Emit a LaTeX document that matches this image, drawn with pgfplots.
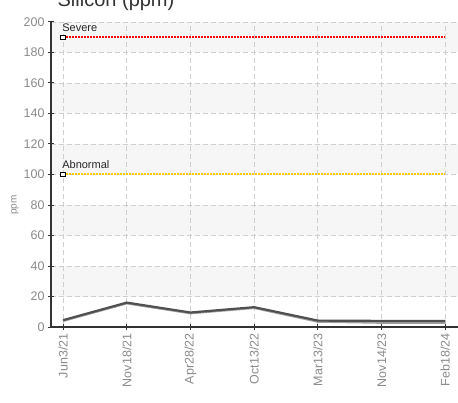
\documentclass[border=0pt]{standalone}
\usepackage{fontspec}
\setmainfont{Liberation Sans}
\usepackage{pgfplots}
\pgfplotsset{compat=1.18}
\definecolor{tickgray}{HTML}{8A8A8A}
\definecolor{bandgray}{HTML}{F6F6F6}
\definecolor{gridgray}{HTML}{CFCFCF}
\definecolor{sevred}{HTML}{FF0000}
\definecolor{abngold}{HTML}{FFCC00}
\definecolor{linedark}{HTML}{505050}
\definecolor{linelight}{HTML}{A0A0A0}
\begin{document}
\begin{tikzpicture}
\begin{axis}[
  set layers,
  scale only axis, width=407pt, height=305pt,
  xmin=-0.19, xmax=6.2, ymin=0, ymax=200,
  axis lines=left,
  axis line style={-, line width=1.2pt, color=black!80},
  xtick={0,1,2,3,4,5,6},
  xticklabels={Jun3/21,Nov18/21,Apr28/22,Oct13/22,Mar13/23,Nov14/23,Feb18/24},
  ytick={0,20,...,200},
  x tick label style={rotate=90, anchor=east, font=\fontsize{12.5}{14}\selectfont, text=tickgray},
  y tick label style={font=\fontsize{12.5}{14}\selectfont, text=tickgray},
  /pgf/number format/assume math mode=true,
  tick align=center, major tick length=6pt,
  tick style={black!80, line width=1pt},
  grid=major,
  grid style={gridgray, line width=0.8pt, dash pattern=on 5pt off 3pt},
  clip=false,
]
\begin{pgfonlayer}{axis background}
\fill[bandgray] (axis cs:-0.19,180) rectangle (axis cs:6.2,200);
\fill[bandgray] (axis cs:-0.19,140) rectangle (axis cs:6.2,160);
\fill[bandgray] (axis cs:-0.19,100) rectangle (axis cs:6.2,120);
\fill[bandgray] (axis cs:-0.19,60) rectangle (axis cs:6.2,80);
\fill[bandgray] (axis cs:-0.19,20) rectangle (axis cs:6.2,40);
\end{pgfonlayer}
\coordinate (bl) at (rel axis cs:0,0);
\coordinate (tr) at (rel axis cs:1,1);
% thresholds
\addplot[sevred, line width=2pt, dash pattern=on 2pt off 1pt] coordinates {(0,190) (6,190)};
\addplot[abngold, line width=2pt, dash pattern=on 2pt off 1pt] coordinates {(0,100) (6,100)};
\addplot[only marks, mark=square*, mark size=2.3pt, mark options={fill=white, draw=black, line width=0.8pt}] coordinates {(0,190) (0,100)};
\node[anchor=base west, font=\fontsize{11}{12}\selectfont, text=black!85, inner sep=0pt] at ([shift={(-1pt,6pt)}]axis cs:0,190) {Severe};
\node[anchor=base west, font=\fontsize{11}{12}\selectfont, text=black!85, inner sep=0pt] at ([shift={(-1pt,6pt)}]axis cs:0,100) {Abnormal};
% data
\addplot[linelight, line width=2.2pt] coordinates {(0,4) (1,15.5) (2,9) (3,12.5) (4,3.5) (5,2.8) (6,2.8)};
\addplot[linedark, line width=2.2pt] coordinates {(0,4.5) (1,16) (2,9.5) (3,13) (4,4.2) (5,4) (6,4)};
\node[rotate=90, font=\fontsize{10}{12}\selectfont, text=tickgray] at ([shift={(-36pt,0pt)}]axis cs:-0.19,80) {ppm};
\end{axis}
\pgfresetboundingbox
\useasboundingbox ([shift={(-51pt,-75pt)}]bl) rectangle ([shift={(0pt,22pt)}]tr);
\node[anchor=base, font=\fontsize{20}{24}\selectfont, text=black!80, inner sep=0pt] at ([shift={(65pt,15.5pt)}]bl |- tr) {Silicon (ppm)};
\end{tikzpicture}
\end{document}
